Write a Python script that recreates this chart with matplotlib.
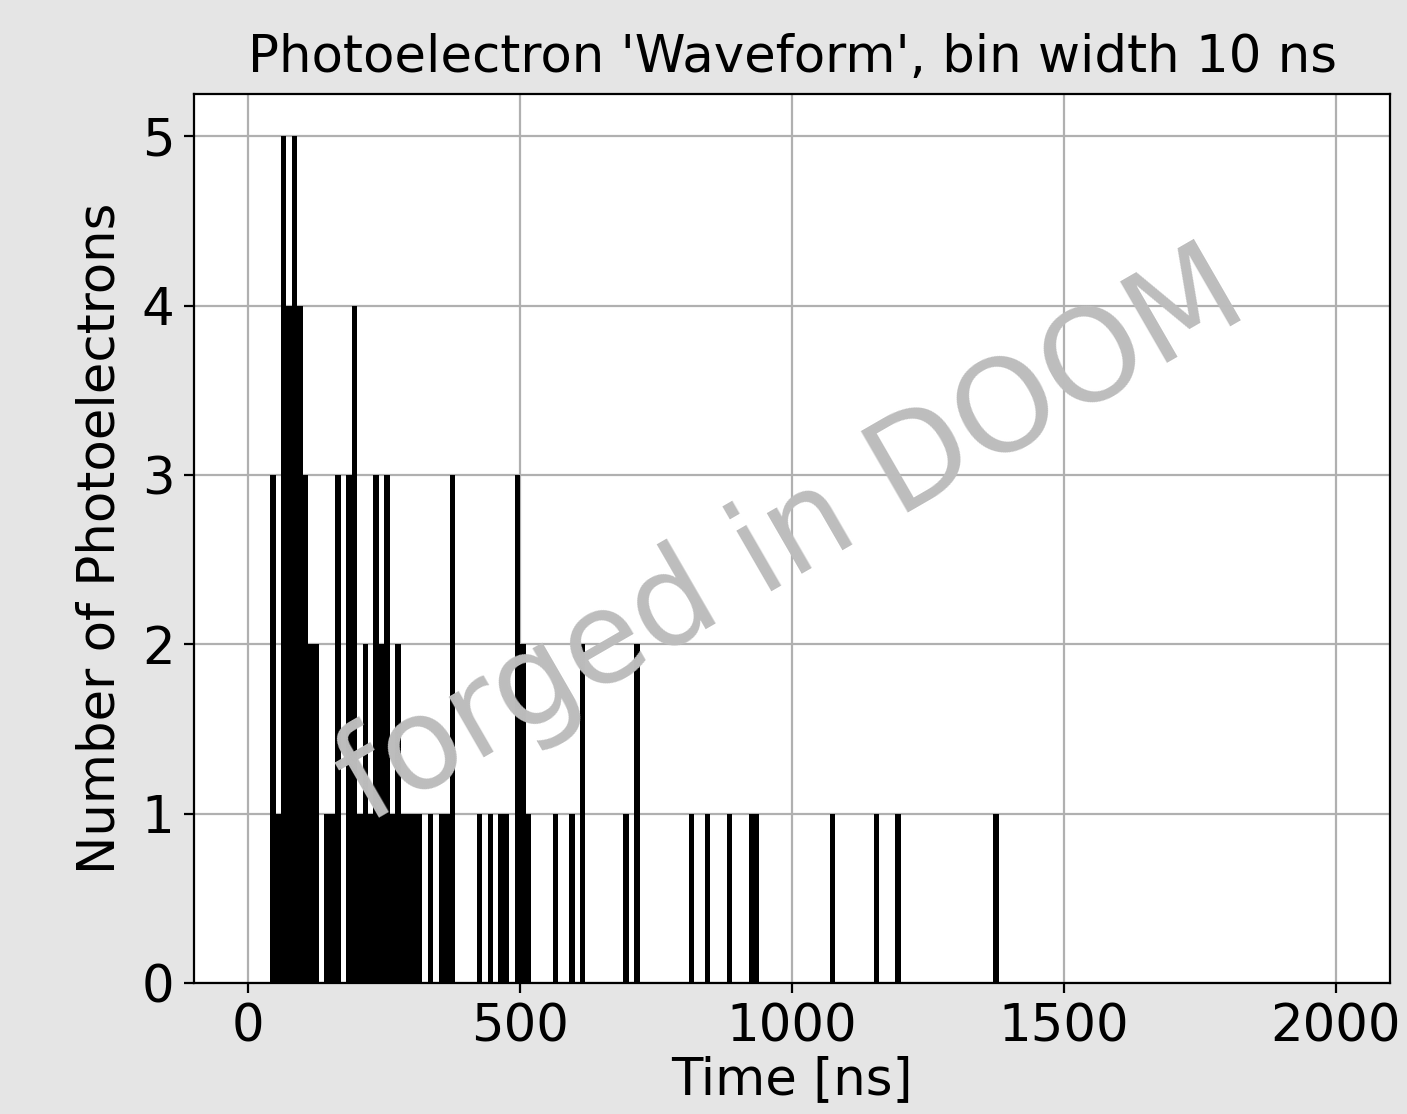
import numpy as np
import matplotlib
matplotlib.use('Agg')
import matplotlib.pyplot as plt

# ── Data: photoelectron counts per 10 ns bin (bin start time -> count) ──
bin_width = 10
t_max = 2000
bin_starts = [40, 50, 60, 70, 80, 90, 100, 110, 120,
              140, 150, 160, 180, 190, 200, 210, 220, 230, 240, 250,
              260, 270, 280, 290, 300, 310, 330, 350, 360, 370,
              420, 440, 460, 470, 490, 500, 510,
              560, 590, 610, 690, 710,
              810, 840, 880, 920, 930, 1070, 1150, 1190, 1370]
counts = [3, 1, 5, 4, 5, 4, 3, 2, 2,
          1, 1, 3, 3, 4, 1, 2, 1, 3, 2, 3,
          1, 2, 1, 1, 1, 1, 1, 1, 1, 3,
          1, 1, 1, 1, 3, 2, 1,
          1, 1, 2, 1, 2,
          1, 1, 1, 1, 1, 1, 1, 1, 1]

# expand to individual photoelectron times (bin centres)
times = np.repeat(np.array(bin_starts) + bin_width / 2, counts)
bins = np.arange(0, t_max + bin_width, bin_width)

# ── Plot ──────────────────────────────────────────────
FS = 18.5
plt.rcParams['font.size'] = FS
fig = plt.figure(figsize=(7.035, 5.57), dpi=200, facecolor='#e5e5e5')
ax = fig.add_axes([0.1379, 0.1176, 0.85, 0.798])
ax.set_facecolor('white')

ax.hist(times, bins=bins, color='black')
ax.set_xlim(-100, 2100)
ax.set_yticks([0, 1, 2, 3, 4, 5])
ax.grid(True, color='#b0b0b0', linewidth=0.8)
ax.set_axisbelow(True)

ax.set_title("Photoelectron 'Waveform', bin width 10 ns", fontsize=FS, pad=8)
ax.set_xlabel('Time [ns]', fontsize=FS, labelpad=1)
ax.set_ylabel('Number of Photoelectrons', fontsize=FS, labelpad=6)

# watermark
ax.text(0.50, 0.50, 'forged in DOOM', transform=ax.transAxes,
        fontsize=46, color='#bdbdbd', rotation=30, zorder=5,
        ha='center', va='center', rotation_mode='anchor')

fig.savefig('out.png', dpi=200, facecolor=fig.get_facecolor())
